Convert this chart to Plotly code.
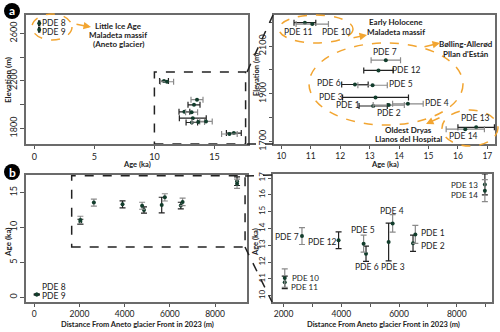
import plotly.graph_objects as go

# sample data
samples = ["PDE 1", "PDE 2", "PDE 3", "PDE 4", "PDE 5", "PDE 6", "PDE 7",
           "PDE 8", "PDE 9", "PDE 10", "PDE 11", "PDE 12", "PDE 13", "PDE 14"]
age = [13.65, 13.12, 13.2, 14.3, 13.1, 12.5, 13.55, 0.4, 0.4, 11.05, 10.8, 13.3, 16.62, 16.25]
age_err = [0.53, 0.48, 1.12, 0.52, 0.5, 0.45, 0.5, 0.05, 0.05, 0.55, 0.37, 0.5, 0.62, 0.65]
elev = [1853, 1849, 1885, 1858, 1936, 1939, 2041, 2685, 2630, 2192, 2198, 1998, 1760, 1752]
dist = [6565, 6485, 5640, 5779, 4773, 4856, 2637, 110, 110, 2040, 2040, 3906, 8975, 8975]
gray_bar = ["PDE 1", "PDE 4", "PDE 5", "PDE 7", "PDE 10", "PDE 14"]

W, H = 500, 332
FONT = "Lato"
ORANGE = "#F2A531"
DOT = "#123d2c"


def px(x):
    return x / W


def py(y):
    return 1 - y / H


fig = go.Figure()

groups = [("#222222", [i for i, s in enumerate(samples) if s not in gray_bar]),
          ("#8a8a8a", [i for i, s in enumerate(samples) if s in gray_bar])]

for col, idx in groups:
    a = [age[i] for i in idx]
    e = [age_err[i] for i in idx]
    z = [elev[i] for i in idx]
    d = [dist[i] for i in idx]
    for xa, ya, horiz in [("x", "y", True), ("x2", "y2", True), ("x3", "y3", False), ("x4", "y4", False)]:
        err = dict(type="data", array=e, color=col, thickness=1.2, width=3)
        if horiz:
            fig.add_trace(go.Scatter(x=a, y=z, mode="markers", xaxis=xa, yaxis=ya,
                                     marker=dict(color=DOT, size=4), error_x=err,
                                     showlegend=False, cliponaxis=False))
        else:
            fig.add_trace(go.Scatter(x=d, y=a, mode="markers", xaxis=xa, yaxis=ya,
                                     marker=dict(color=DOT, size=4), error_y=err,
                                     showlegend=False, cliponaxis=False))

axis_common = dict(showline=True, mirror=True, linecolor="#6b6b6b", linewidth=1.5,
                   ticks="outside", ticklen=4, tickcolor="#555", tickwidth=1,
                   showgrid=False, zeroline=False, automargin=False,
                   tickfont=dict(family=FONT, size=9, color="#222"))
bottom_font = dict(family=FONT, size=8.5, color="#222")

fig.update_layout(
    width=W, height=H, margin=dict(l=0, r=0, t=0, b=0),
    paper_bgcolor="white", plot_bgcolor="white",
    xaxis=dict(axis_common, domain=[px(26), px(248)], range=[-0.7, 17.8],
               tickvals=[0, 5, 10, 15], anchor="y", ticklen=3),
    yaxis=dict(axis_common, domain=[py(144), py(15)], range=[1668, 2754], tickangle=-90,
               tickvals=[1800, 2000, 2200, 2400, 2600],
               ticktext=["1800", "", "2200", "", "2600"], anchor="x"),
    xaxis2=dict(axis_common, domain=[px(274), px(495)], range=[9.75, 17.26],
                tickvals=list(range(10, 18)), anchor="y2", ticklen=3, tickfont=bottom_font),
    yaxis2=dict(axis_common, domain=[py(144), py(15)], range=[1690, 2230], tickangle=-90,
                tickvals=[1700, 1800, 1900, 2000, 2100, 2200], ticklen=3,
                ticktext=["1700", "", "1900", "", "2100", ""], anchor="x2"),
    xaxis3=dict(axis_common, domain=[px(26), px(247)], range=[-367, 9416],
                tickvals=[0, 2000, 4000, 6000, 8000], anchor="y3", ticklen=3,
                tickfont=bottom_font),
    yaxis3=dict(axis_common, domain=[py(302), py(175)], range=[-0.67, 17.5], tickangle=-90,
                tickvals=[0, 5, 10, 15], anchor="x3"),
    xaxis4=dict(axis_common, domain=[px(273), px(492)], range=[1633, 9222],
                tickvals=list(range(2000, 10000, 1000)), ticklen=3,
                ticktext=["2000", "", "4000", "", "6000", "", "8000", ""], anchor="y4",
                tickfont=bottom_font),
    yaxis4=dict(axis_common, domain=[py(302), py(174)], range=[9.63, 17.24], tickangle=-90,
                tickvals=list(range(10, 18)), anchor="x4", ticklen=3,
                tickfont=dict(family=FONT, size=8, color="#222")),
)

shapes = []
# zoom boxes
shapes.append(dict(type="rect", xref="x", yref="y", x0=10, x1=17.6, y0=1668, y1=2275,
                   line=dict(color="#222", width=1.5, dash="dash")))
shapes.append(dict(type="rect", xref="x3", yref="y3", x0=1655, x1=9330, y0=7.2, y1=17.4,
                   line=dict(color="#222", width=1.5, dash="dash")))
# connectors
for x0, y0, x1, y1 in [(247, 72, 273, 15), (247, 144, 273, 144),
                       (245, 176, 272, 175), (245, 247, 272, 302)]:
    shapes.append(dict(type="line", xref="paper", yref="paper", x0=px(x0), y0=py(y0),
                       x1=px(x1), y1=py(y1), line=dict(color="#222", width=1.5, dash="dash")))
# ellipses
for cx, cy, rx, ry in [(52, 27, 20, 13), (316, 29, 37, 14), (386, 84, 77, 41), (470, 128, 28, 18)]:
    shapes.append(dict(type="circle", xref="paper", yref="paper", x0=px(cx - rx), x1=px(cx + rx),
                       y0=py(cy + ry), y1=py(cy - ry), line=dict(color=ORANGE, width=1.5, dash="dash")))
# panel letters
for cx, cy in [(12, 11), (12, 172)]:
    shapes.append(dict(type="circle", xref="paper", yref="paper", x0=px(cx - 8), x1=px(cx + 8),
                       y0=py(cy + 8), y1=py(cy - 8), fillcolor="black", line=dict(width=0)))
fig.update_layout(shapes=shapes)

ann = []


def label(x, y, text, size=9, bold=False, color="#222", angle=0, xanchor="center"):
    t = "<b>%s</b>" % text if bold else text
    ann.append(dict(x=px(x), y=py(y), xref="paper", yref="paper", text=t, showarrow=False,
                    xanchor=xanchor, yanchor="middle", textangle=angle,
                    font=dict(family=FONT, size=size, color=color)))


label(12, 11, "a", size=12, bold=True, color="white")
label(12, 172, "b", size=12, bold=True, color="white")

# axis titles
label(137, 164.5, "Age (ka)", size=7.5, bold=True)
label(385, 164.5, "Age (ka)", size=7.5, bold=True)
label(8, 80, "Elevation (m)", size=8, bold=True, angle=-90)
label(256, 75, "Elevation (m)", size=7.5, bold=True, angle=-90)
label(137, 324, "Distance From Aneto glacier Front in 2023 (m)", size=7.5, bold=True)
label(383, 324, "Distance From Aneto glacier Front in 2023 (m)", size=7.5, bold=True)
label(8, 242, "Age (ka)", size=8, bold=True, angle=-90)
label(255, 242, "Age (ka)", size=7.5, bold=True, angle=-90)

# group captions
for x, y, t in [(118, 26, "Little Ice Age"), (118, 35, "Maladeta massif"), (118, 44, "(Aneto glacier)"),
                (396, 22, "Early Holocene"), (396, 32, "Maladeta massif"),
                (466, 44, "Bølling-Allerød"), (466, 54, "Pllan d'Están"),
                (408, 130, "Oldest Dryas"), (408, 139, "Llanos del Hospital")]:
    label(x, y, t, size=8, bold=True)

# sample labels
for x, y, t in [(54, 23, "PDE 8"), (54, 32, "PDE 9"),
                (298, 32, "PDE 11"), (336, 32, "PDE 10"),
                (385, 52, "PDE 7"), (406, 70, "PDE 12"), (329, 83, "PDE 6"), (401, 84, "PDE 5"),
                (331, 97, "PDE 3"), (348, 105, "PDE 1"), (437, 103, "PDE 4"), (389, 113, "PDE 2"),
                (475, 118, "PDE 13"), (463, 136, "PDE 14"),
                (54, 287, "PDE 8"), (54, 296, "PDE 9"),
                (287, 237, "PDE 7"), (322, 242, "PDE 12"), (363, 230, "PDE 5"), (367, 267, "PDE 6"),
                (392, 211, "PDE 4"), (393, 267, "PDE 3"), (433, 233, "PDE 1"), (433, 246, "PDE 2")]:
    label(x, y, t, size=8.5)
for x, y, t in [(464, 185.5, "PDE 13"), (464, 194.5, "PDE 14"),
                (305, 277.5, "PDE 10"), (304, 286.5, "PDE 11")]:
    label(x, y, t, size=8)

# orange arrows (head x,y ; tail x,y)
for hx, hy, tx, ty in [(91, 27, 75, 24), (367, 35, 352, 38), (440, 43, 423, 47), (426, 124, 441, 117)]:
    ann.append(dict(x=px(hx), y=py(hy), xref="paper", yref="paper", ax=tx - hx, ay=ty - hy,
                    text="", showarrow=True, arrowhead=2, arrowsize=1, arrowwidth=1.5,
                    arrowcolor=ORANGE))
fig.update_layout(annotations=ann)

fig.write_html("out.html", config={"displayModeBar": False},
               post_script="document.body.style.margin='0';")
